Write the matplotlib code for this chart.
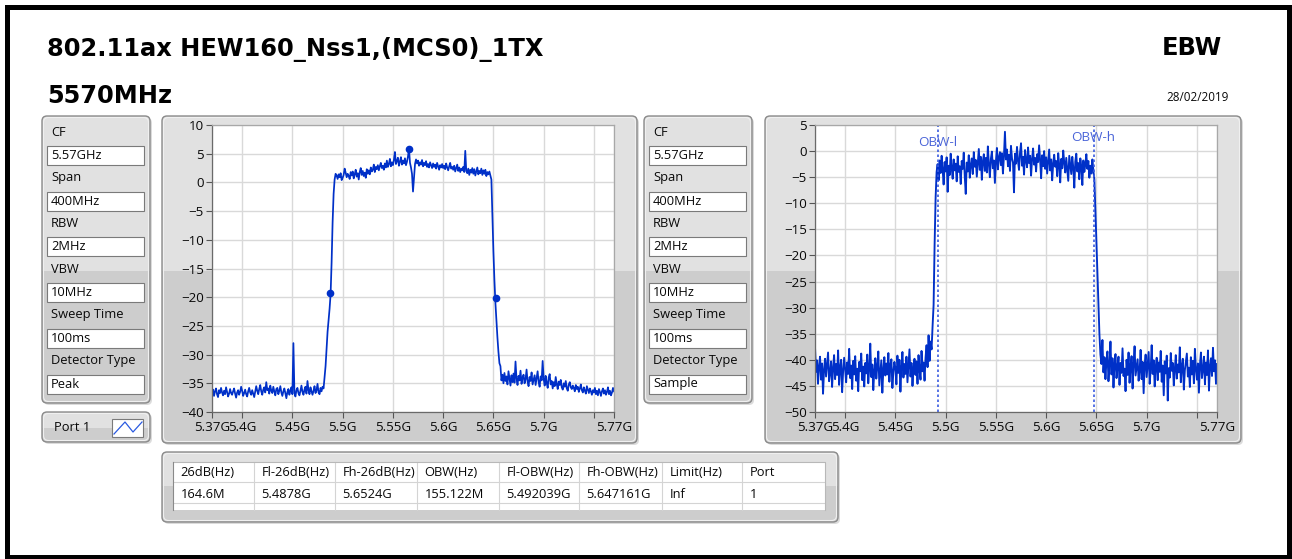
import numpy as np
import matplotlib.pyplot as plt
from matplotlib.patches import FancyBboxPatch, Rectangle

plt.rcParams['font.family'] = ['Open Sans', 'DejaVu Sans']

# ---------------- data ----------------
title_line1 = "802.11ax HEW160_Nss1,(MCS0)_1TX"
title_line2 = "5570MHz"
test_name = "EBW"
test_date = "28/02/2019"

freq_start_ghz = 5.37
freq_stop_ghz = 5.77

# left graph, peak detector (dB), 1 MHz steps from 5.370 to 5.770 GHz
peak_trace = [
    -36.8, -36.1, -37.2, -36.4, -35.9, -36.9, -37.4, -36.2, -36.7, -35.8,
    -36.6, -37.1, -36.3, -36.9, -35.7, -36.5, -37.3, -36.8, -36.0, -36.7,
    -37.0, -36.4, -35.9, -36.8, -37.5, -36.6, -36.2, -37.0, -36.5, -35.6,
    -36.3, -37.2, -36.7, -36.1, -36.9, -37.3, -36.4, -35.8, -36.6, -37.0,
    -36.2, -36.8, -37.4, -36.5, -35.5, -36.3, -36.9, -36.0, -35.3, -36.4,
    -37.0, -36.1, -35.7, -36.6, -34.8, -36.2, -35.9, -36.8, -35.4, -36.3,
    -36.7, -35.6, -36.4, -37.1, -36.0, -35.8, -36.9, -36.3, -35.5, -36.6,
    -37.2, -36.4, -35.9, -36.8, -37.6, -36.5, -36.0, -37.0, -36.3, -35.7,
    -36.9, -28.0, -36.6, -37.3, -36.2, -35.8, -36.7, -37.1, -36.3, -35.4,
    -36.5, -37.0, -36.1, -35.6, -36.8, -34.6, -36.2, -36.9, -35.7, -36.4,
    -37.0, -36.3, -35.5, -36.7, -36.2, -35.1, -36.6, -36.9, -35.8, -36.4,
    -35.6, -35.9, -34.0, -32.0, -29.0, -26.0, -24.0, -22.0, -19.5, -14.0,
    -7.0, -2.0, 0.5, 1.5, 1.2, 0.6, 1.4, 0.9, 1.6, 0.4,
    0.8, 1.3, 2.4, 1.7, 0.9, 1.5, 1.1, 0.6, 1.8, 1.2,
    1.9, 0.7, 1.4, 2.2, 1.0, 1.6, 0.5, 1.8, 2.5, 1.3,
    2.0, 1.1, 1.7, 0.8, 2.3, 1.5, 2.1, 1.4, 2.6, 1.9,
    2.2, 3.1, 1.8, 2.7, 2.3, 3.0, 2.1, 2.8, 3.4, 2.5,
    2.9, 2.2, 3.3, 2.6, 3.8, 2.7, 3.2, 4.1, 2.8, 3.5,
    3.0, 3.9, 5.3, 3.2, 3.7, 4.3, 2.9, 3.6, 4.4, 3.1,
    3.8, 3.3, 4.2, 3.0, 3.6, 4.5, 5.9, 3.4, 2.6, 1.5,
    -1.6, 0.8, 3.2, 4.0, 3.3, 3.8, 2.9, 3.5, 3.1, 3.9,
    2.8, 3.4, 3.0, 3.7, 2.7, 3.2, 2.6, 3.5, 3.0, 2.5,
    3.3, 2.7, 3.1, 2.4, 3.4, 2.8, 2.2, 3.0, 2.6, 3.2,
    2.5, 2.9, 2.3, 3.3, 2.6, 2.1, 2.8, 3.4, 2.4, 2.7,
    2.2, 2.9, 1.9, 2.5, 3.1, 2.0, 2.6, 1.8, 2.4, 2.1,
    2.7, 1.8, 5.5, 2.0, 1.6, 2.4, 1.3, 2.2, 1.7, 2.5,
    1.5, 2.3, 1.2, 1.9, 2.6, 1.4, 2.0, 1.6, 2.4, 1.3,
    2.1, 1.5, 2.2, 1.1, 1.8, 1.4, 1.9, 1.2, 0.5, -6.0,
    -12.0, -17.0, -21.0, -24.0, -27.0, -29.5, -31.5, -32.0, -34.5, -33.5,
    -35.0, -33.2, -34.6, -33.8, -35.2, -32.9, -34.1, -35.4, -33.6, -34.8,
    -33.3, -34.9, -31.2, -34.2, -35.3, -33.7, -34.5, -32.8, -35.1, -34.0,
    -33.5, -35.0, -34.3, -32.6, -34.7, -35.5, -33.9, -34.6, -33.1, -35.2,
    -34.4, -33.6, -35.3, -34.1, -32.9, -34.8, -35.6, -33.8, -34.5, -31.1,
    -34.2, -35.4, -33.7, -34.9, -35.8, -34.0, -33.4, -35.2, -34.6, -35.9,
    -34.8, -35.5, -33.9, -35.1, -36.0, -34.7, -35.3, -34.4, -35.7, -36.1,
    -35.0, -35.6, -34.6, -35.9, -36.3, -35.2, -34.8, -35.7, -36.0, -35.4,
    -35.8, -36.4, -35.3, -36.0, -35.6, -36.5, -35.9, -35.2, -36.2, -36.6,
    -35.7, -36.3, -36.8, -35.5, -36.1, -36.7, -35.9, -36.4, -37.0, -36.2,
    -36.6, -35.8, -36.9, -36.3, -37.1, -36.0, -36.5, -37.2, -36.4, -35.9,
    -36.8, -36.2, -37.0, -36.5, -35.7, -36.9, -36.3, -37.1, -36.6, -35.8,
    -36.4,
]

# right graph, sample detector (dB), same sweep
sample_trace = [
    -37.5, -42.3, -40.1, -44.6, -41.2, -39.4, -43.8, -40.7, -46.5, -41.9,
    -39.8, -43.2, -41.0, -38.6, -44.1, -42.5, -40.3, -45.2, -41.6, -39.1,
    -43.7, -40.8, -42.9, -38.2, -44.8, -41.4, -40.0, -46.2, -42.1, -39.6,
    -41.8, -44.3, -40.5, -42.7, -37.9, -43.5, -41.1, -45.6, -40.2, -42.8,
    -39.3, -44.0, -41.7, -46.0, -40.4, -42.2, -38.8, -43.9, -41.3, -45.1,
    -40.6, -42.6, -39.0, -44.5, -41.5, -36.9, -43.3, -40.9, -45.8, -42.0,
    -39.7, -43.6, -41.2, -38.4, -44.9, -42.4, -40.1, -46.3, -41.8, -39.5,
    -43.0, -40.7, -42.8, -38.7, -44.2, -41.0, -39.9, -45.4, -42.3, -40.4,
    -41.6, -44.7, -39.2, -42.5, -40.0, -46.1, -41.3, -38.5, -43.4, -40.8,
    -42.7, -39.4, -44.3, -41.1, -38.0, -43.2, -40.6, -45.0, -41.7, -39.8,
    -42.9, -40.3, -44.6, -39.1, -41.9, -43.8, -38.3, -42.2, -40.5, -44.0,
    -39.6, -37.2, -41.4, -35.3, -40.2, -36.5, -38.0, -33.5, -29.5, -18.0,
    -9.0, -4.0, -2.5, -5.6, -1.8, -4.2, -0.9, -3.5, -6.4, -2.1,
    -3.9, -1.2, -7.8, -2.8, -4.6, -0.5, -3.2, -5.3, -1.6, -3.7,
    -2.4, -5.8, -1.0, -4.0, -2.9, -6.3, -1.9, -3.4, -0.3, -4.8,
    -8.2, -2.2, -3.9, -0.8, -5.1, -2.6, -1.4, -4.4, -0.2, -3.0,
    -1.7, -4.9, -2.3, 0.4, -3.6, -1.1, -5.5, -2.0, -0.6, -3.8,
    -1.3, -4.1, 0.9, -2.5, -5.0, -1.5, -0.1, -3.3, -1.8, -6.1,
    -2.0, 0.6, -3.5, -1.2, -0.2, -2.7, -0.4, -4.3, -1.0, 3.7,
    -1.6, 0.3, -2.9, -0.7, -3.8, 1.0, -1.4, -2.2, -7.9, -0.5,
    -2.4, 0.8, -1.9, -3.6, -0.3, 1.5, -2.8, -1.1, -4.5, 0.2,
    -1.8, -3.1, 0.7, -2.3, -0.9, -4.7, -1.5, 0.5, -2.6, -1.3,
    -3.9, -0.6, -2.1, 1.1, -1.7, -5.2, -0.8, -2.9, 0.0, -3.4,
    -1.2, -4.3, -2.0, 0.3, -3.7, -1.6, -5.6, -2.4, -0.7, -3.0,
    -1.9, -4.8, -0.4, -2.7, -6.0, -1.5, -3.3, 0.1, -2.2, -4.1,
    -1.3, -3.6, -5.7, -0.9, -2.6, -4.4, -1.1, -3.2, -7.0, -2.0,
    -0.5, -3.9, -2.3, -5.4, -1.4, -3.0, -6.5, -1.8, -4.0, -2.5,
    -0.6, -3.4, -1.9, -5.1, -2.8, -4.3, -1.6, -3.7, -5.5, -11.5,
    -18.0, -24.0, -30.0, -35.0, -39.0, -40.8, -36.2, -42.4, -39.5, -43.7,
    -40.2, -38.4, -44.1, -41.0, -36.5, -42.8, -39.7, -45.3, -40.9, -38.9,
    -43.5, -41.3, -39.4, -44.8, -40.6, -42.5, -37.8, -43.1, -41.7, -46.0,
    -40.0, -42.9, -38.6, -44.4, -41.2, -39.3, -45.5, -40.7, -37.4, -43.0,
    -41.5, -39.9, -44.0, -42.2, -38.1, -43.7, -40.4, -46.4, -41.0, -39.0,
    -43.3, -40.8, -38.5, -44.6, -41.9, -37.2, -42.7, -40.1, -45.1, -41.4,
    -39.6, -43.9, -40.5, -42.3, -38.3, -44.2, -41.1, -46.8, -40.3, -42.6,
    -39.2, -47.8, -41.6, -43.4, -38.7, -42.1, -40.6, -44.9, -41.8, -39.1,
    -43.6, -40.9, -42.4, -37.6, -44.3, -41.2, -39.8, -45.7, -42.0, -40.4,
    -38.8, -43.2, -41.5, -45.2, -39.5, -42.8, -40.2, -44.5, -37.9, -41.7,
    -43.8, -40.7, -46.3, -41.0, -38.6, -43.5, -41.9, -39.4, -44.7, -40.5,
    -42.9, -38.2, -45.9, -41.3, -39.7, -43.1, -37.7, -42.2, -40.1, -44.6,
    -40.8,
]

marker_freq = [5.4878, 5.6524, 5.566]
marker_level = [-19.3, -20.1, 5.9]
obw_freq = [5.492039, 5.647161]
obw_names = ["OBW-l", "OBW-h"]

x_ticks = [5.37, 5.40, 5.45, 5.50, 5.55, 5.60, 5.65, 5.70, 5.75, 5.77]
x_tick_labels = ["5.37G", "5.4G", "5.45G", "5.5G", "5.55G", "5.6G",
                 "5.65G", "5.7G", "", "5.77G"]

param_labels = ["CF", "Span", "RBW", "VBW", "Sweep Time", "Detector Type"]
peak_params = ["5.57GHz", "400MHz", "2MHz", "10MHz", "100ms", "Peak"]
sample_params = ["5.57GHz", "400MHz", "2MHz", "10MHz", "100ms", "Sample"]

table_headers = ["26dB(Hz)", "Fl-26dB(Hz)", "Fh-26dB(Hz)", "OBW(Hz)",
                 "Fl-OBW(Hz)", "Fh-OBW(Hz)", "Limit(Hz)", "Port"]
table_values = ["164.6M", "5.4878G", "5.6524G", "155.122M",
                "5.492039G", "5.647161G", "Inf", "1"]

# ---------------- figure ----------------
W, H = 1292, 559
fig = plt.figure(figsize=(W / 100, H / 100), dpi=100)
fig.patch.set_facecolor("white")

bg = fig.add_axes([0, 0, 1, 1])
bg.set_xlim(0, W)
bg.set_ylim(H, 0)
bg.axis("off")

TRACE = "#0030c8"
TXT = "#080808"
UI_FS = 9.3


def panel(x0, y0, x1, y1, split):
    w, h = x1 - x0, y1 - y0
    style = "round,pad=0,rounding_size=5"
    bg.add_patch(FancyBboxPatch((x0 + 2, y0 + 2), w, h, boxstyle=style,
                                fc="#c4c4c4", ec="none", alpha=0.6))
    body = FancyBboxPatch((x0, y0), w, h, boxstyle=style, fc="#cdcdcd",
                          ec="none")
    bg.add_patch(body)
    upper = Rectangle((x0, y0), w, split - y0, fc="#e1e1e1", ec="none")
    bg.add_patch(upper)
    upper.set_clip_path(body)
    bg.add_patch(FancyBboxPatch((x0 + 1.5, y0 + 1.5), w - 3, h - 3,
                                boxstyle=style, fc="none", ec="#f0f0f0",
                                lw=0.8))
    bg.add_patch(FancyBboxPatch((x0, y0), w, h, boxstyle=style, fc="none",
                                ec="#8a8a8a", lw=1.0))


def param_panel(x0, values):
    panel(x0, 116, x0 + 108, 403, 271)
    for i, (lab, val) in enumerate(zip(param_labels, values)):
        yl = 132 + 45.7 * i
        bg.text(x0 + 9, yl, lab, fontsize=UI_FS, va="center", color=TXT)
        yb = 146 + 45.7 * i
        bg.add_patch(Rectangle((x0 + 5, yb), 97, 19, fc="white",
                               ec="#7a7a7a", lw=0.8))
        bg.text(x0 + 9, yb + 9.5, val, fontsize=UI_FS, va="center", color=TXT)


# outer frame
bg.add_patch(Rectangle((6.5, 6.5), 1282, 550.5, fill=False, ec="black",
                       lw=3.6))

# titles
bg.text(47, 56, title_line1, fontsize=17.4, fontweight="bold",
        family="DejaVu Sans", va="baseline", color="black")
bg.text(47, 103, title_line2, fontsize=17.4, fontweight="bold",
        family="DejaVu Sans", va="baseline", color="black")
bg.text(1222, 55, test_name, fontsize=17.4, fontweight="bold",
        family="DejaVu Sans", va="baseline", ha="right", color="black")
bg.text(1229, 101, test_date, fontsize=8.4, va="baseline", ha="right",
        color=TXT)

# setting panels
param_panel(42, peak_params)
param_panel(644, sample_params)

# port panel
panel(42, 412, 150, 442, 428)
bg.text(72, 427.5, "Port 1", fontsize=UI_FS, ha="center", va="center",
        color=TXT)
bg.add_patch(Rectangle((112, 419), 31, 18, fc="white", ec="#7a7a7a", lw=0.8))
bg.plot([114, 125, 133, 142], [434, 422, 432, 422], color="#2a5ae0", lw=0.9)

# graph panels
panel(162, 116, 637, 443, 271)
panel(765, 116, 1241, 443, 271)

# result table
panel(162, 452, 838, 522, 486)
col_edges = [173, 254, 335, 417, 499, 579, 662, 742, 825]
bg.add_patch(Rectangle((173, 462), 652, 48, fc="white", ec="none"))
for xe in col_edges[1:-1]:
    bg.plot([xe, xe], [462, 510], color="#d4d4d4", lw=0.8)
for ye in (482, 503):
    bg.plot([173, 825], [ye, ye], color="#d4d4d4", lw=0.8)
bg.plot([173, 825, 825], [462, 462, 510], color="#b8b8b8", lw=0.8)
bg.plot([173, 173], [462, 510], color="#8a8a8a", lw=0.8)
for xe, hd, val in zip(col_edges, table_headers, table_values):
    bg.text(xe + 7.5, 472.5, hd, fontsize=UI_FS, va="center", color=TXT)
    bg.text(xe + 7.5, 494, val, fontsize=UI_FS, va="center", color=TXT)


# ---------------- graphs ----------------
def graph(rect, trace, ylo, yhi, lw):
    x0, y0, x1, y1 = rect
    ax = fig.add_axes([x0 / W, 1 - y1 / H, (x1 - x0) / W, (y1 - y0) / H])
    freq = np.linspace(freq_start_ghz, freq_stop_ghz, len(trace))
    ax.plot(freq, trace, color=TRACE, lw=lw)
    ax.set_xlim(freq_start_ghz, freq_stop_ghz)
    ax.set_ylim(ylo, yhi)
    ax.set_xticks(x_ticks)
    ax.set_xticklabels(x_tick_labels)
    ax.set_yticks(np.arange(ylo, yhi + 1, 5))
    ax.grid(True, color="#d9d9d9", lw=1.0)
    ax.set_axisbelow(True)
    ax.tick_params(direction="out", length=4.5, width=0.8, color="#555555",
                   labelsize=9.6, labelcolor=TXT)
    ax.tick_params(axis="x", pad=2)
    ax.tick_params(axis="y", pad=1.5)
    for side in ("left", "bottom"):
        ax.spines[side].set_color("#6a6a6a")
    for side in ("top", "right"):
        ax.spines[side].set_color("#a8a8a8")
    for sp in ax.spines.values():
        sp.set_linewidth(0.9)
    return ax


ax1 = graph((212, 125, 614, 412), peak_trace, -40, 10, 1.25)
ax1.plot(marker_freq, marker_level, "o", ms=4.5, color=TRACE)

ax2 = graph((815, 125, 1217, 412), sample_trace, -50, 5, 1.35)
obw_label_y = [1.7, 2.7]
for f, name, ly in zip(obw_freq, obw_names, obw_label_y):
    ax2.axvline(f, color="#3a5be0", lw=1.2, ls=(0, (1.5, 1.5)))
    ax2.text(f, ly, name, fontsize=9.6, ha="center", va="center",
             color="#4a64d8")

fig.savefig("out.png", dpi=100)
